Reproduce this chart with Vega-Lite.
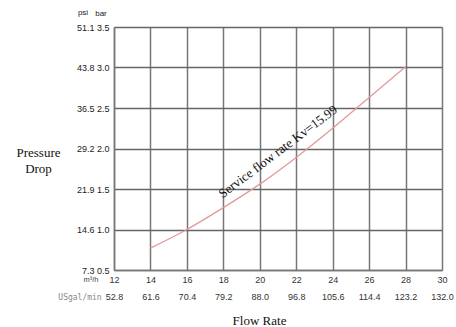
{
  "$schema": "https://vega.github.io/schema/vega-lite/v6.json",
  "autosize": "none",
  "width": 328,
  "height": 243,
  "padding": {"left": 114, "top": 27, "right": 14, "bottom": 57},
  "background": "white",
  "config": {"view": {"stroke": null}},
  "datasets": {
    "curve": [
      {"q": 14, "bar": 0.77},
      {"q": 16, "bar": 1.0},
      {"q": 18, "bar": 1.27},
      {"q": 20, "bar": 1.56},
      {"q": 22, "bar": 1.89},
      {"q": 24, "bar": 2.25},
      {"q": 26, "bar": 2.63},
      {"q": 28, "bar": 3.01}
    ],
    "notes": [
      {"q": 21.0, "bar": 1.96, "label": "Service flow rate Kv=15.99"}
    ],
    "heads": [
      {"q": 12, "bar": 3.5, "label": "psi", "kind": "psi"},
      {"q": 12, "bar": 3.5, "label": "bar", "kind": "bar"},
      {"q": 12, "bar": 0.5, "label": "m³/h", "kind": "m3"},
      {"q": 12, "bar": 0.5, "label": "USgal/min", "kind": "us"}
    ]
  },
  "encoding": {
    "x": {
      "field": "q", "type": "quantitative",
      "scale": {"domain": [12, 30], "nice": false, "zero": false},
      "axis": {
        "values": [12, 14, 16, 18, 20, 22, 24, 26, 28, 30],
        "labelExpr": "[format(datum.value, 'd'), format(datum.value * 4.4, '.1f')]",
        "labelOverlap": false,
        "labelFont": "Liberation Sans",
        "labelFontSize": 9,
        "labelColor": "#333",
        "labelLineHeight": 17,
        "labelPadding": 9,
        "labelBaseline": "middle",
        "ticks": false,
        "domain": true,
        "domainColor": "#777",
        "domainWidth": 1.5,
        "grid": true,
        "gridColor": "#777",
        "gridWidth": 1.5,
        "labelFlush": false,
        "title": "Flow Rate",
        "titleFont": "Liberation Serif",
        "titleFontSize": 13,
        "titleFontWeight": "normal",
        "titleColor": "#111",
        "titleY": 50,
        "titleX": 145,
        "titleBaseline": "middle"
      }
    },
    "y": {
      "field": "bar", "type": "quantitative",
      "scale": {"domain": [0.5, 3.5], "nice": false, "zero": false},
      "axis": {
        "values": [0.5, 1.0, 1.5, 2.0, 2.5, 3.0, 3.5],
        "labelExpr": "format(datum.value * 14.6, '.1f') + '  ' + format(datum.value, '.1f')",
        "labelOverlap": false,
        "labelFont": "Liberation Sans",
        "labelFontSize": 9,
        "labelColor": "#222",
        "labelPadding": 5,
        "ticks": false,
        "domain": true,
        "domainColor": "#777",
        "domainWidth": 1.5,
        "grid": true,
        "gridColor": "#666",
        "gridWidth": 1.5,
        "labelFlush": false,
        "title": ["Pressure", "Drop"],
        "titleFont": "Liberation Serif",
        "titleFontSize": 13,
        "titleFontWeight": "normal",
        "titleColor": "#111",
        "titleAngle": 0,
        "titleAlign": "center",
        "titleBaseline": "middle",
        "titleLineHeight": 16,
        "titleX": -76,
        "titleY": 125
      }
    }
  },
  "layer": [
    {
      "data": {"name": "curve"},
      "mark": {"type": "line", "color": "#e39a9a", "strokeWidth": 1.3, "interpolate": "monotone"}
    },
    {
      "data": {"name": "notes"},
      "mark": {"type": "text", "font": "Liberation Serif", "fontSize": 13, "angle": -37, "color": "#111", "align": "center", "baseline": "middle"},
      "encoding": {"text": {"field": "label"}}
    },
    {
      "data": {"name": "heads"},
      "transform": [{"filter": "datum.kind == 'psi'"}],
      "mark": {"type": "text", "font": "Liberation Sans", "fontSize": 8, "color": "#222", "dx": -31, "dy": -14, "align": "center"},
      "encoding": {"text": {"field": "label"}}
    },
    {
      "data": {"name": "heads"},
      "transform": [{"filter": "datum.kind == 'bar'"}],
      "mark": {"type": "text", "font": "Liberation Sans", "fontSize": 8, "color": "#222", "dx": -13, "dy": -13, "align": "center"},
      "encoding": {"text": {"field": "label"}}
    },
    {
      "data": {"name": "heads"},
      "transform": [{"filter": "datum.kind == 'm3'"}],
      "mark": {"type": "text", "font": "Liberation Sans", "fontSize": 7.5, "color": "#444", "dx": -23, "dy": 10, "align": "center"},
      "encoding": {"text": {"field": "label"}}
    },
    {
      "data": {"name": "heads"},
      "transform": [{"filter": "datum.kind == 'us'"}],
      "mark": {"type": "text", "font": "DejaVu Sans Mono", "fontSize": 8, "color": "#888", "dx": -34, "dy": 28, "align": "center"},
      "encoding": {"text": {"field": "label"}}
    }
  ]
}
